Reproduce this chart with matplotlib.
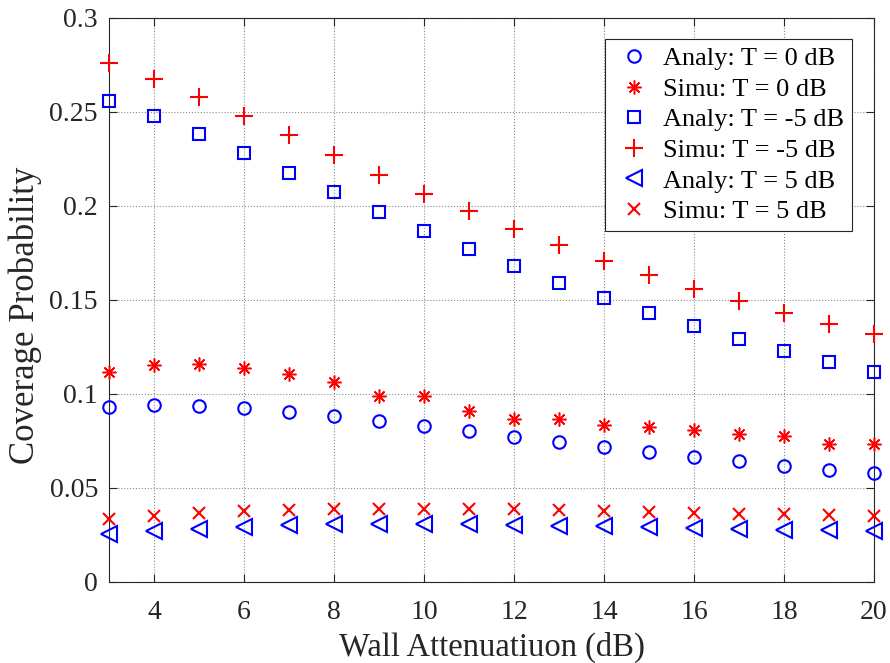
import numpy as np
import matplotlib
matplotlib.use("Agg")
import matplotlib.pyplot as plt

plt.rcParams['font.family'] = ['Liberation Serif', 'DejaVu Serif']

# wall attenuation (dB)
wall_db = np.arange(3, 21)

# coverage probability, analytical and simulated, per SINR threshold
analy_0 = [0.0933, 0.0940, 0.0934, 0.0924, 0.0906, 0.0883, 0.0856, 0.0832, 0.0805,
           0.0773, 0.0746, 0.0720, 0.0693, 0.0667, 0.0642, 0.0619, 0.0597, 0.0578]
simu_0 = [0.1115, 0.1154, 0.1158, 0.1137, 0.1106, 0.1066, 0.0989, 0.0989, 0.0910,
          0.0867, 0.0867, 0.0835, 0.0824, 0.0807, 0.0786, 0.0778, 0.0736, 0.0732]
analy_m5 = [0.2559, 0.2477, 0.2381, 0.2280, 0.2177, 0.2073, 0.1968, 0.1867, 0.1771,
            0.1681, 0.1592, 0.1511, 0.1433, 0.1362, 0.1294, 0.1230, 0.1172, 0.1119]
simu_m5 = [0.2759, 0.2677, 0.2578, 0.2479, 0.2376, 0.2271, 0.2167, 0.2065, 0.1972,
           0.1876, 0.1791, 0.1709, 0.1633, 0.1560, 0.1493, 0.1429, 0.1371, 0.1318]
analy_5 = [0.0254, 0.0271, 0.0284, 0.0294, 0.0301, 0.0307, 0.0310, 0.0310, 0.0309,
           0.0303, 0.0300, 0.0296, 0.0291, 0.0286, 0.0282, 0.0278, 0.0275, 0.0270]
simu_5 = [0.0333, 0.0353, 0.0365, 0.0376, 0.0383, 0.0387, 0.0390, 0.0388, 0.0388,
          0.0387, 0.0383, 0.0376, 0.0372, 0.0369, 0.0363, 0.0362, 0.0356, 0.0353]

fig = plt.figure(figsize=(8.9, 6.63), dpi=100)
ax = fig.add_axes([0.1225, 0.1222, 0.8595, 0.8507])
ax.set_axisbelow(True)

ms = 9
common = dict(ls='none', mew=1.5, clip_on=False, zorder=3)
ax.plot(wall_db, analy_0, 'o', mfc='none', mec='blue', ms=ms,
        label='Analy: T = 0 dB', **common)
ax.plot(wall_db, simu_0, marker=(8, 2, 0), color='red', ms=ms + 1,
        label='Simu: T = 0 dB', **{**common, 'mew': 1.1})
ax.plot(wall_db, analy_m5, 's', mfc='none', mec='blue', ms=ms - 1,
        label='Analy: T = -5 dB', **common)
ax.plot(wall_db, simu_m5, '+', color='red', ms=ms + 4,
        label='Simu: T = -5 dB', **common)
ax.plot(wall_db, analy_5, '<', mfc='none', mec='blue', ms=ms + 2,
        label='Analy: T = 5 dB', **common)
ax.plot(wall_db, simu_5, 'x', color='red', ms=ms - 1,
        label='Simu: T = 5 dB', **common)

ax.set_xlim(3, 20)
ax.set_ylim(0, 0.3)
ax.set_xticks(np.arange(4, 21, 2))
ax.set_yticks([0, 0.05, 0.1, 0.15, 0.2, 0.25, 0.3])
ax.set_yticklabels(['0', '0.05', '0.1', '0.15', '0.2', '0.25', '0.3'])
ax.tick_params(direction='in', top=True, right=True, labelsize=20, labelcolor='#262626',
               color='#262626', length=6, width=0.8)
ax.tick_params(axis='x', pad=13)
ax.tick_params(axis='y', pad=8)
ax.grid(True, ls=':', color='#8c8c8c', lw=0.8)
for sp in ax.spines.values():
    sp.set_color('#262626')
    sp.set_linewidth(0.8)

ax.set_xlabel('Wall Attenuatiuon (dB)', fontsize=23.5, color='#262626')
ax.set_ylabel('Coverage Probability', fontsize=25, color='#262626')
ax.xaxis.set_label_coords(0.5, -0.089)
ax.yaxis.set_label_coords(-0.087, 0.473)

leg = ax.legend(loc='upper right', fontsize=19, frameon=True, fancybox=False,
                edgecolor='#262626', framealpha=1, handletextpad=0.3,
                handlelength=1.6, labelspacing=0.27, borderpad=0.3,
                borderaxespad=0, bbox_to_anchor=(0.9715, 0.963))
leg.get_frame().set_linewidth(0.8)

fig.savefig('out.png', dpi=100)
